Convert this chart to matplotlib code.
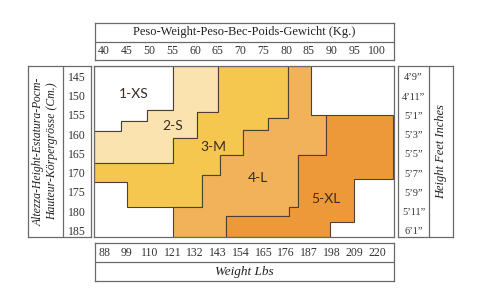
import matplotlib.pyplot as plt
from matplotlib.patches import Polygon

# axis labels
kg_ticks = [40, 45, 50, 55, 60, 65, 70, 75, 80, 85, 90, 95, 100]
lbs_ticks = [88, 99, 110, 121, 132, 143, 154, 165, 176, 187, 198, 209, 220]
cm_ticks = [145, 150, 155, 160, 165, 170, 175, 180, 185]
feet_ticks = ["4’9”", "4’11”", "5’1”", "5’3”", "5’5”", "5’7”", "5’9”", "5’11”", "6’1”"]

# size regions (kg, cm)
sizes = ["1-XS", "2-S", "3-M", "4-L", "5-XL"]
size_colors = ["#ffffff", "#fae3ae", "#f6c74e", "#f1b25a", "#ed993a"]

xs_kg = [38.0, 55.2, 55.2, 49.6, 49.6, 43.9, 43.9, 38.0]
xs_cm = [141.9, 141.9, 153.3, 153.3, 156.2, 156.2, 158.8, 158.8]

s_kg = [55.2, 65.2, 65.2, 60.6, 60.6, 55.2, 55.2, 38.0, 38.0, 43.9, 43.9, 49.6, 49.6, 55.2]
s_cm = [141.9, 141.9, 153.8, 153.8, 160.6, 160.6, 167.1, 167.1, 158.8, 158.8, 156.2, 156.2, 153.3, 153.3]

m_kg = [65.2, 80.5, 80.5, 76.1, 76.1, 70.6, 70.6, 65.6, 65.6, 61.7, 61.7, 45.3, 45.3, 38.0,
        38.0, 55.2, 55.2, 60.6, 60.6, 65.2]
m_cm = [141.9, 141.9, 155.4, 155.4, 158.5, 158.5, 165.0, 165.0, 170.2, 170.2, 178.5, 178.5, 172.0, 172.0,
        167.1, 167.1, 160.6, 160.6, 153.8, 153.8]

l_kg = [80.5, 85.5, 85.5, 88.8, 88.8, 82.7, 82.7, 80.7, 80.7, 66.9, 66.9, 55.2, 55.2, 61.7,
        61.7, 65.6, 65.6, 70.6, 70.6, 76.1, 76.1, 80.5]
l_cm = [141.9, 141.9, 154.6, 154.6, 165.0, 165.0, 178.5, 178.5, 180.8, 180.8, 186.3, 186.3, 178.5, 178.5,
        170.2, 170.2, 165.0, 165.0, 158.5, 158.5, 155.4, 155.4]

xl_kg = [88.8, 103.5, 103.5, 95.0, 95.0, 89.7, 89.7, 66.9, 66.9, 80.7, 80.7, 82.7, 82.7, 88.8]
xl_cm = [154.6, 154.6, 171.2, 171.2, 182.4, 182.4, 186.3, 186.3, 180.8, 180.8, 178.5, 178.5, 165.0, 165.0]

label_kg = [46.8, 55.3, 64.1, 73.9, 88.8]
label_cm = [149.1, 157.5, 162.9, 171.0, 176.4]

kg_lim = (38.0, 103.7)
cm_lim = (186.3, 141.9)

W, H = 480, 303
box_col = "#6a6a6a"
edge_col = "#4e4034"
serif = "Liberation Serif"


def add_box(x0, y0, x1, y1):
    ax = fig.add_axes([x0 / W, 1 - y1 / H, (x1 - x0) / W, (y1 - y0) / H])
    ax.set_xticks([])
    ax.set_yticks([])
    for sp in ax.spines.values():
        sp.set_color(box_col)
        sp.set_linewidth(0.9)
    ax.patch.set_alpha(0)
    return ax


fig = plt.figure(figsize=(W / 100, H / 100), dpi=100)

# main chart
ax = add_box(94, 66, 394, 237)
ax.set_xlim(*kg_lim)
ax.set_ylim(*cm_lim)
regions = [(xs_kg, xs_cm), (s_kg, s_cm), (m_kg, m_cm), (l_kg, l_cm), (xl_kg, xl_cm)]
for (px, py), c in zip(regions, size_colors):
    ax.add_patch(Polygon(list(zip(px, py)), closed=True, facecolor=c,
                         edgecolor=edge_col, linewidth=0.8))
for name, x, y in zip(sizes, label_kg, label_cm):
    ax.text(x, y, name, ha="center", va="center", fontsize=10,
            family="Lato", color="#3a2c20")

# top box: kg
top = add_box(95, 23, 394, 60)
top.set_xlim(*kg_lim)
top.axhline(0.5, color=box_col, linewidth=0.9)
top.text(0.5, 0.75, "Peso-Weight-Peso-Bec-Poids-Gewicht (Kg.)", transform=top.transAxes,
         ha="center", va="center", fontsize=9, family=serif, color="#222222")
for v in kg_ticks:
    top.text(v, 0.25, str(v), transform=top.get_xaxis_transform(),
             ha="center", va="center", fontsize=8.5, family=serif, color="#333333")

# bottom box: lbs
bot = add_box(95, 243, 394, 281)
bot.set_xlim(*kg_lim)
bot.axhline(0.5, color=box_col, linewidth=0.9)
for v, s in zip(kg_ticks, lbs_ticks):
    bot.text(v, 0.75, str(s), transform=bot.get_xaxis_transform(),
             ha="center", va="center", fontsize=8.5, family=serif, color="#333333")
bot.text(0.5, 0.25, "Weight Lbs", transform=bot.transAxes, ha="center", va="center",
         fontsize=9.5, family=serif, style="italic", color="#222222")

# left box: cm
left = add_box(28, 66, 91, 237)
left.set_ylim(*cm_lim)
left.axvline(35 / 63, color=box_col, linewidth=0.9)
left.text(17.5 / 63, 0.5, "Altezza-Height-Estatura-Рост-\nHauteur-Körpergrösse (Cm.)",
          transform=left.transAxes, rotation=90, ha="center", va="center",
          fontsize=8.5, family=serif, style="italic", color="#222222", linespacing=1.25)
for v in cm_ticks:
    left.text(49 / 63, v, str(v), transform=left.get_yaxis_transform(),
              ha="center", va="center", fontsize=8.5, family=serif, color="#333333")

# right box: feet / inches
right = add_box(398, 66, 453, 237)
right.set_ylim(*cm_lim)
right.axvline(31 / 55, color=box_col, linewidth=0.9)
for v, s in zip(cm_ticks, feet_ticks):
    right.text(15.5 / 55, v, s, transform=right.get_yaxis_transform(),
               ha="center", va="center", fontsize=7.5, family=serif, color="#333333")
right.text(43 / 55, 0.5, "Height Feet Inches", transform=right.transAxes, rotation=90,
           ha="center", va="center", fontsize=9, family=serif, style="italic", color="#222222")

fig.savefig("out.png", dpi=100)
